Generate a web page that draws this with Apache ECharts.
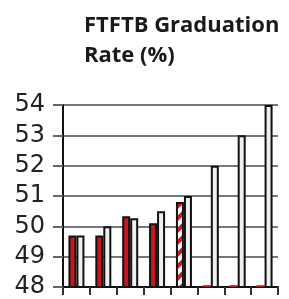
<!DOCTYPE html>
<html>
<head>
<meta charset="utf-8">
<script src="https://cdn.jsdelivr.net/npm/echarts@6/dist/echarts.min.js"></script>
<style>
  html, body { margin: 0; padding: 0; background: #fff; }
  #chart { width: 289px; height: 299px; }
</style>
</head>
<body>
<div id="chart"></div>
<script>
const categories = ['1', '2', '3', '4', '5', '6', '7', '8']
const actualRate = [49.7, 49.7, 50.33, 50.1, 50.8, 48.06, 48.06, 48.06]
const targetRate = [49.7, 50.0, 50.27, 50.5, 51.0, 52.0, 53.0, 54.0]
const yTicks = [48, 49, 50, 51, 52, 53, 54]

// red/white diagonal stripes for the projected bar
const makeStripes = () => {
  const c = document.createElement('canvas')
  c.width = 12
  c.height = 12
  const ctx = c.getContext('2d')
  ctx.fillStyle = '#ffffff'
  ctx.fillRect(0, 0, 12, 12)
  ctx.strokeStyle = '#d9141b'
  ctx.lineWidth = 4
  ctx.beginPath()
  ctx.moveTo(-3, 15); ctx.lineTo(15, -3)
  ctx.moveTo(-9, 9); ctx.lineTo(9, -9)
  ctx.moveTo(3, 21); ctx.lineTo(21, 3)
  ctx.stroke()
  return c
}

const red = '#c8161d'
const chart = echarts.init(document.getElementById('chart'))
const option = {
  animation: false,
  title: {
    text: 'FTFTB Graduation\nRate (%)',
    left: 79,
    top: 6,
    textStyle: {
      fontFamily: 'Open Sans',
      fontWeight: 'bold',
      fontSize: 22,
      lineHeight: 30,
      color: '#1a1a1a'
    }
  },
  grid: { left: 63, right: 11, top: 105, bottom: 9 },
  xAxis: {
    type: 'category',
    data: categories,
    axisLine: { lineStyle: { color: '#111', width: 2 } },
    axisTick: { show: true, length: 8, lineStyle: { color: '#333', width: 2 } },
    axisLabel: { show: false }
  },
  yAxis: {
    type: 'value',
    min: yTicks[0],
    max: yTicks[yTicks.length - 1],
    interval: 1,
    axisLine: { show: true, lineStyle: { color: '#111', width: 2 } },
    axisTick: { show: true, length: 10, lineStyle: { color: '#666', width: 2 } },
    splitLine: { lineStyle: { color: '#777', width: 2 } },
    axisLabel: {
      margin: 18,
      fontFamily: 'DejaVu Sans',
      fontSize: 24,
      color: '#222'
    }
  },
  series: [
    {
      name: 'Actual',
      type: 'bar',
      barWidth: 8,
      barGap: '0%',
      data: actualRate.map((v, i) => {
        if (i === 4) {
          return { value: v, itemStyle: { color: { image: makeStripes(), repeat: 'repeat' } } }
        }
        if (i > 4) {
          return { value: v, itemStyle: { borderWidth: 0 } }
        }
        return v
      }),
      itemStyle: { color: red, borderColor: '#111', borderWidth: 2 }
    },
    {
      name: 'Goal',
      type: 'bar',
      barWidth: 8,
      data: targetRate,
      itemStyle: { color: '#eef0f0', borderColor: '#111', borderWidth: 2 }
    }
  ]
}
chart.setOption(option)
</script>
</body>
</html>
